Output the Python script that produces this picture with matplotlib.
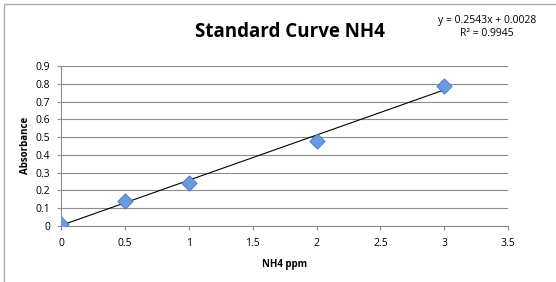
import matplotlib.pyplot as plt
from matplotlib.patches import Rectangle
import numpy as np

plt.rcParams['font.family'] = ['Open Sans', 'DejaVu Sans']

conc = [0, 0.5, 1, 2, 3]
absorb = [0.01, 0.14, 0.24, 0.48, 0.79]
slope, intercept = 0.2543, 0.0028
r2 = 0.9945

fig = plt.figure(figsize=(5.56, 2.82), dpi=100)
fig.patches.append(Rectangle((4 / 556, -0.1), 1.2, 1 - 4 / 282 + 0.1, transform=fig.transFigure,
                             fill=False, edgecolor='#b0b0b0', linewidth=1.0))
ax = fig.add_axes([0.110, 0.199, 0.804, 0.567])

ax.grid(axis='y', color='#8c8c8c', linewidth=0.8)
ax.set_axisbelow(True)
xs = np.array([0, 3])
ax.plot(xs, slope * xs + intercept, color='black', linewidth=0.8, zorder=3)
ax.scatter(conc, absorb, marker='D', s=60, color='#6a9be0', edgecolors='#4273bb', linewidths=0.6, zorder=4)

ax.set_xlim(0, 3.5)
ax.set_ylim(0, 0.9)
ax.set_xticks(np.arange(0, 3.51, 0.5))
ax.set_xticklabels(['0', '0.5', '1', '1.5', '2', '2.5', '3', '3.5'])
ax.set_yticks(np.arange(0, 0.91, 0.1))
ax.set_yticklabels(['0', '0.1', '0.2', '0.3', '0.4', '0.5', '0.6', '0.7', '0.8', '0.9'])
ax.tick_params(labelsize=7.5, length=3, color='#8c8c8c', width=0.8)
ax.tick_params(axis='x', pad=6)
ax.tick_params(axis='y', pad=5)
for s in ['top', 'right']:
    ax.spines[s].set_visible(False)
for s in ['left', 'bottom']:
    ax.spines[s].set_color('#8c8c8c')
    ax.spines[s].set_linewidth(0.8)

ax.set_xlabel('NH4 ppm', fontsize=7, fontweight='bold', labelpad=7)
ax.set_ylabel('Absorbance', fontsize=7, fontweight='bold', labelpad=3)
fig.text(0.522, 0.885, 'Standard Curve NH4', fontsize=13.5, fontweight='bold', ha='center', va='center')
fig.text(0.876, 0.905, 'y = {}x + {}\nR² = {}'.format(slope, intercept, r2), fontsize=7.5,
         ha='center', va='center', linespacing=1.3)

fig.savefig('out.png', dpi=100)
